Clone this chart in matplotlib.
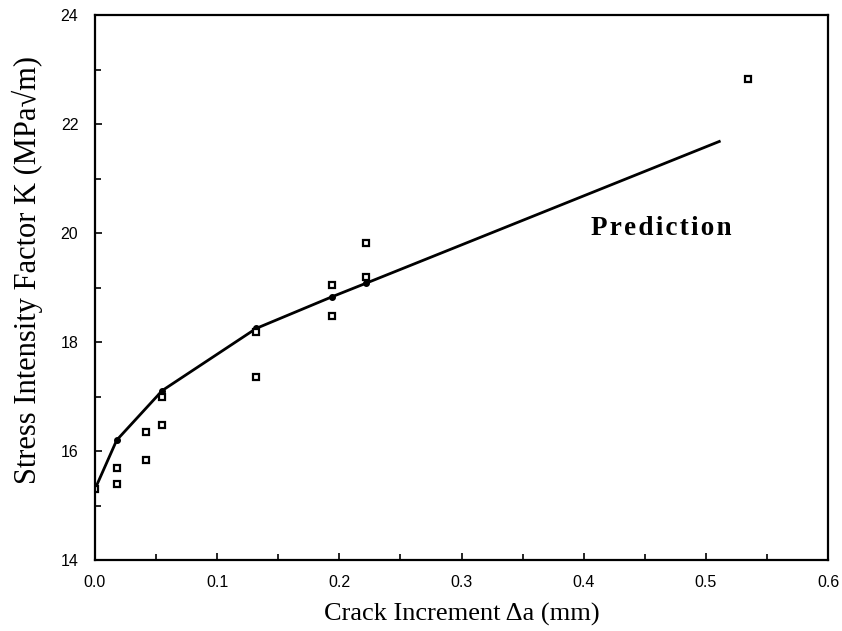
import matplotlib
matplotlib.use('Agg')
import matplotlib.pyplot as plt
from matplotlib.ticker import MultipleLocator, FormatStrFormatter

# 预测曲线
pred_x = [0.0, 0.0178, 0.0551, 0.132, 0.194, 0.222, 0.511]
pred_k = [15.30, 16.20, 17.11, 18.25, 18.83, 19.08, 21.68]

# 试验数据点
test_x = [0.0, 0.0182, 0.0182, 0.0415, 0.0415, 0.055, 0.055,
          0.132, 0.132, 0.194, 0.194, 0.222, 0.222, 0.5346]
test_k = [15.30, 15.68, 15.39, 16.34, 15.83, 16.99, 16.48,
          18.19, 17.36, 19.05, 18.48, 19.20, 19.81, 22.82]

serif = ['Liberation Serif', 'DejaVu Serif']

fig = plt.figure(figsize=(8.42, 6.31), dpi=100)
ax = fig.add_axes([0.1128, 0.1125, 0.8706, 0.8637])

ax.plot(pred_x, pred_k, color='black', linewidth=2)
ax.plot(pred_x[:-1], pred_k[:-1], 'o', color='black', markersize=4)
ax.plot(test_x, test_k, 's', markersize=5, markerfacecolor='white',
        markeredgecolor='black', markeredgewidth=1.6, linestyle='none')

# 字母间距拉开
ax.text(0.406, 20.09, '\u200a'.join('Prediction'), family=serif,
        fontweight='bold', fontsize=19.5, va='center')

ax.set_xlim(0, 0.6)
ax.set_ylim(14, 24)
ax.xaxis.set_major_locator(MultipleLocator(0.1))
ax.xaxis.set_minor_locator(MultipleLocator(0.05))
ax.yaxis.set_major_locator(MultipleLocator(2))
ax.yaxis.set_minor_locator(MultipleLocator(1))
ax.xaxis.set_major_formatter(FormatStrFormatter('%.1f'))

ax.tick_params(which='both', direction='in', top=False, right=False, width=1.2)
ax.tick_params(which='major', length=5, labelsize=11.5)
ax.tick_params(axis='x', which='major', pad=11)
ax.tick_params(axis='y', which='major', pad=12)
ax.tick_params(which='minor', length=4)
for lab in ax.get_xticklabels() + ax.get_yticklabels():
    lab.set_family('Liberation Sans')

for sp in ax.spines.values():
    sp.set_linewidth(1.6)

ax.set_xlabel('Crack Increment \u0394a (mm)', family=serif,
              fontsize=19, labelpad=9)
ax.set_ylabel('Stress Intensity Factor K (MPa\u221am)', family=serif,
              fontsize=22, labelpad=8)
ax.yaxis.set_label_coords(-0.071, 0.532)

fig.savefig('out.png', dpi=100)
